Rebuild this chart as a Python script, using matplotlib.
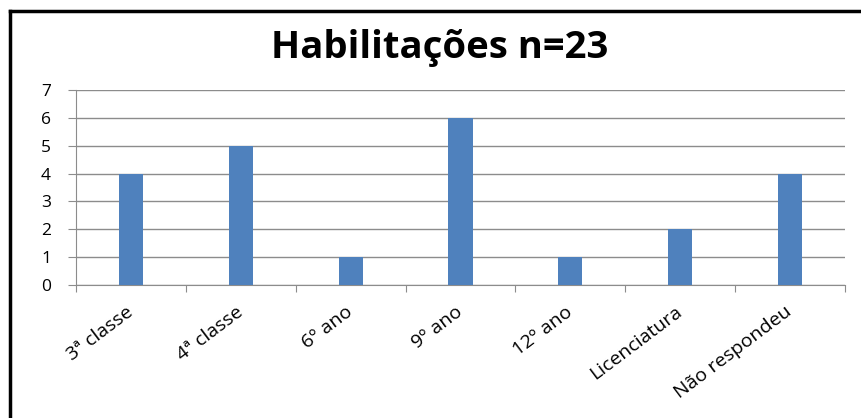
import matplotlib
matplotlib.use("Agg")
import matplotlib.pyplot as plt
from matplotlib.lines import Line2D

categories = ["3ª classe", "4ª classe", "6º ano", "9º ano", "12º ano", "Licenciatura", "Não respondeu"]
values = [4, 5, 1, 6, 1, 2, 4]
yticks = [0, 1, 2, 3, 4, 5, 6, 7]
title = "Habilitações n=23"

plt.rcParams['font.family'] = ['Open Sans', 'DejaVu Sans']

W, H = 862, 418
fig = plt.figure(figsize=(W/100, H/100), dpi=100)
ax = fig.add_axes([76/W, 1-285/H, (845-76)/W, (285-90)/H])

x = list(range(len(categories)))
ax.bar(x, values, width=0.22, color="#4f81bd", zorder=3)
ax.set_xlim(-0.5, len(categories)-0.5)
ax.set_ylim(0, 7)
ax.set_yticks(yticks)
ax.set_yticklabels([str(v) for v in yticks], fontsize=12.5)
ax.yaxis.grid(True, color="#8c8c8c", linewidth=1)
ax.set_axisbelow(True)
for s in ["top", "right"]:
    ax.spines[s].set_visible(False)
for s in ["left", "bottom"]:
    ax.spines[s].set_color("#8c8c8c")
ax.tick_params(axis="y", length=6, color="#8c8c8c", pad=12)
ax.set_xticks([i - 0.5 for i in range(len(categories)+1)], minor=False)
ax.set_xticklabels([])
ax.tick_params(axis="x", length=5, color="#8c8c8c")
ax.set_xticks(x, minor=True)
ax.set_xticklabels(categories, minor=True, rotation=37, ha="right", va="center",
                   rotation_mode="anchor", fontsize=14)
ax.tick_params(axis="x", which="minor", length=0, pad=18)

fig.text(440/W, 1-58/H, title, ha="center", va="baseline", fontsize=27.5, fontweight="bold")

fig.add_artist(Line2D([10/W, 10/W], [0, 1-11/H], color="black", linewidth=2.5, transform=fig.transFigure))
fig.add_artist(Line2D([10/W, 1], [1-11/H, 1-11/H], color="black", linewidth=2.5, transform=fig.transFigure))

fig.savefig("out.png", dpi=100)
